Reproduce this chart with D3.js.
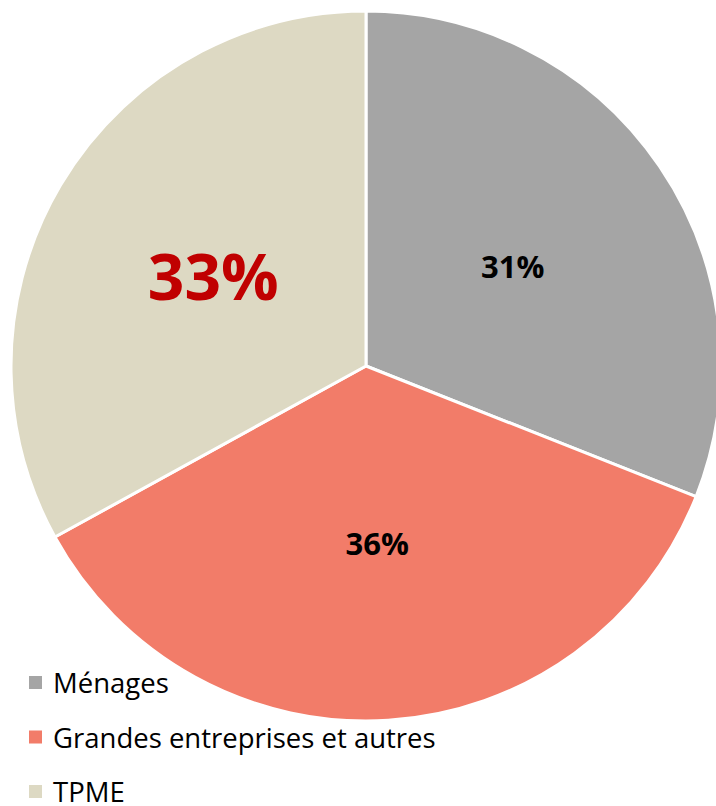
<!DOCTYPE html>
<html>
<head>
<meta charset="utf-8">
<script src="https://cdn.jsdelivr.net/npm/d3@7"></script>
<style>
  body { margin: 0; background: #fff; }
  svg { display: block; }
</style>
</head>
<body>
<div id="chart"></div>
<script>
const categories = ['Ménages', 'Grandes entreprises et autres', 'TPME'];
const values = [31, 36, 33];
const labels = ['31%', '36%', '33%'];
const colors = ['#A5A5A5', '#F27C69', '#DDD9C3'];

const width = 716, height = 806;
const cx = 366, cy = 366, radius = 355;

const svg = d3.select('#chart').append('svg').attr('width', width).attr('height', height);

const data = categories.map((c, i) => ({name: c, value: values[i], label: labels[i], color: colors[i]}));
const pie = d3.pie().sort(null).value(d => d.value);
const arcs = pie(data);
const arc = d3.arc().innerRadius(0).outerRadius(radius);

const g = svg.append('g').attr('transform', `translate(${cx},${cy})`);

// slices
g.selectAll('path').data(arcs).enter().append('path')
  .attr('d', arc)
  .attr('fill', d => d.data.color)
  .attr('stroke', '#fff')
  .attr('stroke-width', 3)
  .attr('stroke-linejoin', 'round');

// value labels
const labelArc = d3.arc().innerRadius(radius * 0.5).outerRadius(radius * 0.5);
g.selectAll('text').data(arcs).enter().append('text')
  .attr('x', d => labelArc.centroid(d)[0])
  .attr('y', d => labelArc.centroid(d)[1])
  .attr('text-anchor', 'middle')
  .attr('dominant-baseline', 'central')
  .style('font-family', 'Open Sans, sans-serif')
  .style('font-weight', 'bold')
  .style('font-size', d => d.data.name === 'TPME' ? '64px' : '31px')
  .style('fill', d => d.data.name === 'TPME' ? '#C00000' : '#000')
  .text(d => d.data.label);

// legend
const legend = svg.append('g').attr('transform', 'translate(29,0)');
const item = legend.selectAll('g').data(data).enter().append('g')
  .attr('transform', (d, i) => `translate(0,${693 + i * 54.5})`);
item.append('rect').attr('x', 0).attr('y', -17).attr('width', 13).attr('height', 13)
  .attr('fill', d => d.color);
item.append('text').attr('x', 24).attr('y', 0)
  .style('font-family', 'Open Sans, sans-serif')
  .style('font-size', '27.5px')
  .style('fill', '#000')
  .text(d => d.name);
</script>
</body>
</html>
